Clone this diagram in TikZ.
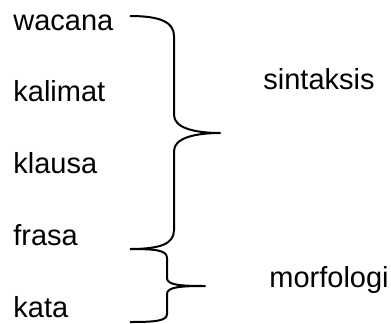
\documentclass[tikz,border=0pt]{standalone}
\usepackage{fontspec}
\setmainfont{Liberation Sans}
\begin{document}
\begin{tikzpicture}[x=0.5pt,y=-0.5pt,
  word/.style={anchor=base west,inner sep=0pt,font=\fontsize{14.5}{17}\selectfont},
  brace/.style={draw=black,line width=1pt,line join=round}]
\useasboundingbox (0,0) rectangle (391,323);
% levels of language units
\node[word] (wacana)  at (13,30)  {wacana};
\node[word] (kalimat) at (13,101) {kalimat};
\node[word] (klausa)  at (13,173) {klausa};
\node[word] (frasa)   at (13,245) {frasa};
\node[word] (kata)    at (13,317) {kata};
% fields of study
\node[word] (sintaksis) at (263,89)  {sintaksis};
\node[word] (morfologi) at (269,287) {morfologi};
% brace ends and tips
\coordinate (bTop) at (130,16);
\coordinate (bTip) at (220,133);
\coordinate (bBot) at (130,249);
\coordinate (sTip) at (205,286);
\coordinate (sBot) at (130,322);
% large brace: wacana to frasa
\path[brace] (bTop) .. controls (160,16) and (174,22) .. (174,36)
  -- (174,115) .. controls (174,128) and (195,133) .. (bTip)
  .. controls (195,133) and (174,138) .. (174,151)
  -- (174,230) .. controls (174,244) and (160,249) .. (bBot);
% small brace: frasa to kata
\path[brace] (bBot) .. controls (155,249) and (167,250) .. (167,258)
  -- (167,278) .. controls (167,285) and (180,286) .. (sTip)
  .. controls (180,286) and (167,287) .. (167,294)
  -- (167,314) .. controls (167,321) and (155,322) .. (sBot);
\end{tikzpicture}
\end{document}
